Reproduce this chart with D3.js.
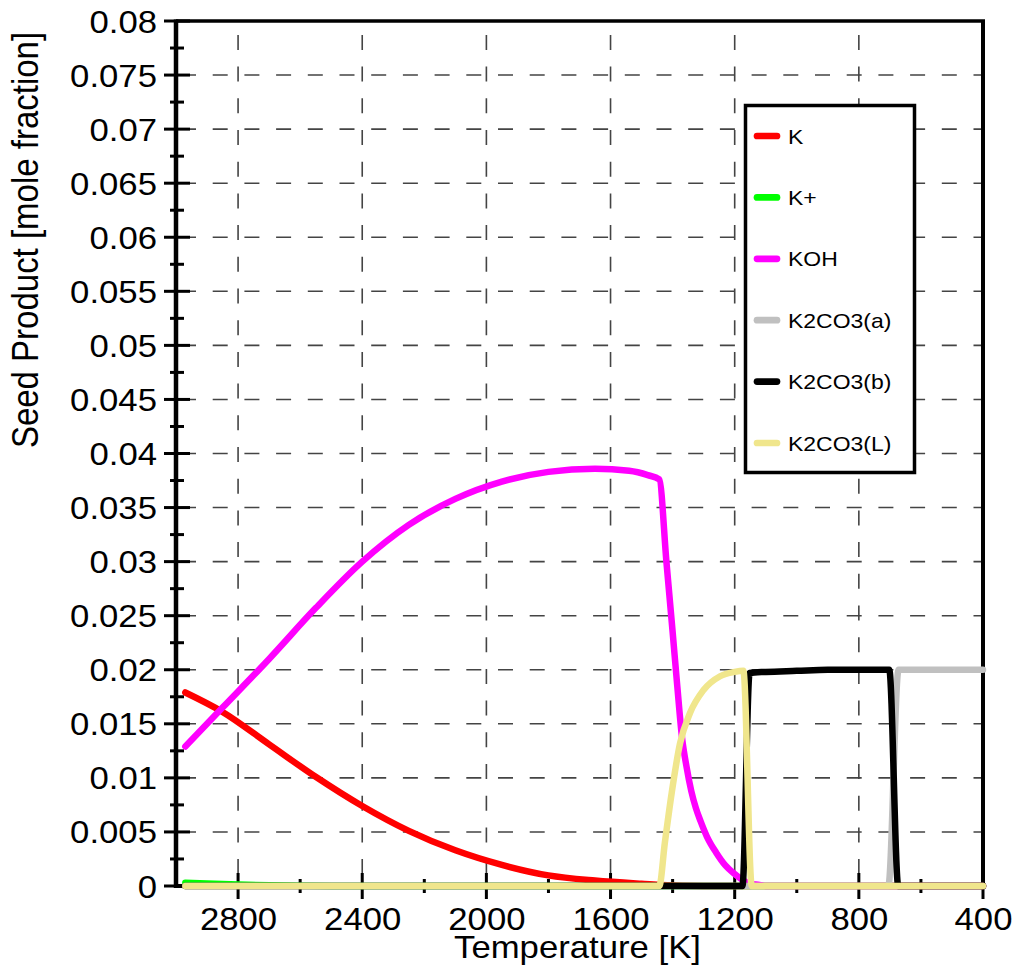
<!DOCTYPE html>
<html>
<head>
<meta charset="utf-8">
<script src="https://cdn.jsdelivr.net/npm/d3@7"></script>
<style>
  html, body { margin: 0; padding: 0; background: #fff; }
  svg { display: block; font-family: "Liberation Sans", Arial, sans-serif; }
</style>
</head>
<body>
<svg id="chart" width="1017" height="979"></svg>
<script>
// ---- data: [temperature K, mole fraction] ----
const seriesNames = ["K", "K+", "KOH", "K2CO3(a)", "K2CO3(b)", "K2CO3(L)"];
const seriesColors = ["#ff0000", "#00ff00", "#ff00ff", "#c0c0c0", "#000000", "#f0e68c"];

const kData = [[2970,0.0179],[2850,0.0161],[2700,0.0131],[2550,0.0101],[2400,0.0074],[2250,0.0051],
  [2100,0.0033],[1950,0.00195],[1800,0.00098],[1650,0.0005],[1500,0.0002],[1440,0.0001],[1300,0],[400,0]];
const kPlusData = [[2970,0.0003],[2900,0.00022],[2800,0.00013],[2700,0.00007],[2600,0.00003],
  [2500,0.00001],[2400,0],[400,0]];
const kohData = [[2970,0.0129],[2850,0.0165],[2700,0.0210],[2550,0.0257],[2400,0.0300],[2250,0.0334],
  [2100,0.0358],[1950,0.0374],[1800,0.0383],[1650,0.03858],[1540,0.0384],[1480,0.0380],[1443,0.0376],
  [1420,0.0300],[1400,0.0235],[1385,0.0185],[1370,0.0138],[1355,0.0110],[1340,0.0088],[1325,0.0072],
  [1310,0.0060],[1290,0.0046],[1260,0.0031],[1230,0.0019],[1200,0.0011],[1172,0.0005],[1150,0.0002],
  [1120,0.0001],[1100,0],[400,0]];
const k2co3aData = [[2970,0],[705,0],[672,0.0200],[400,0.0200]];
const k2co3bData = [[2970,0],[1175,0],[1152,0.0197],[1100,0.0198],[1000,0.0199],[900,0.0200],
  [800,0.0200],[702,0.0200],[673,0],[400,0]];
const k2co3lData = [[2970,0],[1443,0],[1425,0.0040],[1403,0.0086],[1376,0.0132],[1344,0.0160],
  [1301,0.0181],[1247,0.0194],[1200,0.0198],[1172,0.0199],[1145,0],[400,0]];
const seriesData = [kData, kPlusData, kohData, k2co3aData, k2co3bData, k2co3lData];

// ---- ticks ----
const xTicks = [2800, 2400, 2000, 1600, 1200, 800, 400];
const xTickLabels = ["2800", "2400", "2000", "1600", "1200", "800", "400"];
const xMinorTicks = [2600, 2200, 1800, 1400, 1000, 600];
const yTicks = [0,0.005,0.01,0.015,0.02,0.025,0.03,0.035,0.04,0.045,0.05,0.055,0.06,0.065,0.07,0.075,0.08];
const yTickLabels = ["0","0.005","0.01","0.015","0.02","0.025","0.03","0.035","0.04","0.045","0.05",
  "0.055","0.06","0.065","0.07","0.075","0.08"];
const yMinorTicks = [0.0025,0.0075,0.0125,0.0175,0.0225,0.0275,0.0325,0.0375,0.0425,0.0475,0.0525,
  0.0575,0.0625,0.0675,0.0725,0.0775];

// ---- layout ----
const SX = 1.12;               // horizontal glyph stretch
const plotL = 176, plotR = 983, plotT = 21, plotB = 886;
const svg = d3.select("#chart");

const x = d3.scaleLinear().domain([3000, 400]).range([plotL, plotR]);
const y = d3.scaleLinear().domain([0, 0.08]).range([plotB, plotT]);

// grid
const grid = svg.append("g").attr("stroke", "#444").attr("stroke-width", 1.6)
  .attr("stroke-dasharray", "15,16.7");
grid.selectAll("line.h").data(yTicks.filter(v => v > 0 && v < 0.08)).join("line")
  .attr("class", "h").attr("x1", plotL + 5).attr("x2", plotR)
  .attr("y1", d => y(d)).attr("y2", d => y(d));
grid.selectAll("line.v").data(xTicks.filter(t => t > 400)).join("line")
  .attr("class", "v").attr("y1", plotT).attr("y2", plotB)
  .attr("stroke-dashoffset", 17.8)
  .attr("x1", d => x(d)).attr("x2", d => x(d));

// frame
const frame = svg.append("g").attr("stroke", "#000").attr("fill", "none");
frame.append("line").attr("x1", plotL).attr("x2", plotL).attr("y1", plotT - 1.5).attr("y2", plotB + 2).attr("stroke-width", 4.5);
frame.append("line").attr("x1", plotL).attr("x2", plotR + 2).attr("y1", plotB).attr("y2", plotB).attr("stroke-width", 4);
frame.append("line").attr("x1", plotL).attr("x2", plotR + 2).attr("y1", plotT).attr("y2", plotT).attr("stroke-width", 3.5);
frame.append("line").attr("x1", plotR).attr("x2", plotR).attr("y1", plotT).attr("y2", plotB + 2).attr("stroke-width", 4);

// tick marks crossing the axes
const ticks = svg.append("g").attr("stroke", "#000").attr("stroke-width", 3);
ticks.selectAll("line.xM").data(xTicks).join("line").attr("class", "xM")
  .attr("x1", d => x(d)).attr("x2", d => x(d)).attr("y1", plotB - 13).attr("y2", plotB + 13);
ticks.selectAll("line.xm").data(xMinorTicks).join("line").attr("class", "xm")
  .attr("x1", d => x(d)).attr("x2", d => x(d)).attr("y1", plotB - 7).attr("y2", plotB + 7);
ticks.selectAll("line.yM").data(yTicks).join("line").attr("class", "yM")
  .attr("y1", d => y(d)).attr("y2", d => y(d)).attr("x1", plotL - 12).attr("x2", plotL + 14);
ticks.selectAll("line.ym").data(yMinorTicks).join("line").attr("class", "ym")
  .attr("y1", d => y(d)).attr("y2", d => y(d)).attr("x1", plotL - 6).attr("x2", plotL + 8);

// series (drawn over the frame)
const line = d3.line().x(d => x(d[0])).y(d => y(d[1])).curve(d3.curveMonotoneX);
svg.append("g").selectAll("path").data(seriesData).join("path")
  .attr("d", d => line(d))
  .attr("fill", "none")
  .attr("stroke", (d, i) => seriesColors[i])
  .attr("stroke-width", 6.5)
  .attr("stroke-linecap", "round")
  .attr("stroke-linejoin", "round");

// axis labels
const yAxis = svg.append("g").attr("transform", `translate(${plotL},0)`)
  .call(d3.axisLeft(y).tickValues(yTicks).tickSize(0).tickFormat((d, i) => yTickLabels[i]));
yAxis.select(".domain").remove();
yAxis.attr("font-size", 31).attr("font-family", null);
yAxis.selectAll("text").attr("x", null).attr("dy", null).attr("fill", "#000")
  .attr("transform", `translate(-19,11) scale(${SX},1)`);

const xAxis = svg.append("g").attr("transform", `translate(0,${plotB})`)
  .call(d3.axisBottom(x).tickValues(xTicks).tickSize(0).tickFormat((d, i) => xTickLabels[i]));
xAxis.select(".domain").remove();
xAxis.attr("font-size", 31).attr("font-family", null);
xAxis.selectAll("text").attr("y", null).attr("dy", null).attr("fill", "#000")
  .attr("transform", `translate(0,44) scale(${SX},1)`);

// axis titles
svg.append("text").attr("transform", `translate(577.5,957.5) scale(${SX},1)`)
  .attr("text-anchor", "middle").attr("font-size", 31).text("Temperature [K]");
svg.append("text").attr("transform", `translate(38,240) rotate(-90) scale(1,${SX})`)
  .attr("text-anchor", "middle").attr("font-size", 33).text("Seed Product [mole fraction]");

// legend
const legend = svg.append("g");
legend.append("rect").attr("x", 745.5).attr("y", 105.5).attr("width", 169).attr("height", 367)
  .attr("fill", "#fff").attr("stroke", "#000").attr("stroke-width", 3.5);
const rows = legend.selectAll("g.row").data(seriesNames).join("g").attr("class", "row")
  .attr("transform", (d, i) => `translate(0,${136 + i * 61.4})`);
rows.append("line").attr("x1", 757).attr("x2", 777).attr("y1", 0).attr("y2", 0)
  .attr("stroke", (d, i) => seriesColors[i]).attr("stroke-width", 6.7).attr("stroke-linecap", "round");
rows.append("text").attr("transform", `translate(788,7.5) scale(${SX},1)`)
  .attr("font-size", 20.5).text(d => d);
</script>
</body>
</html>
